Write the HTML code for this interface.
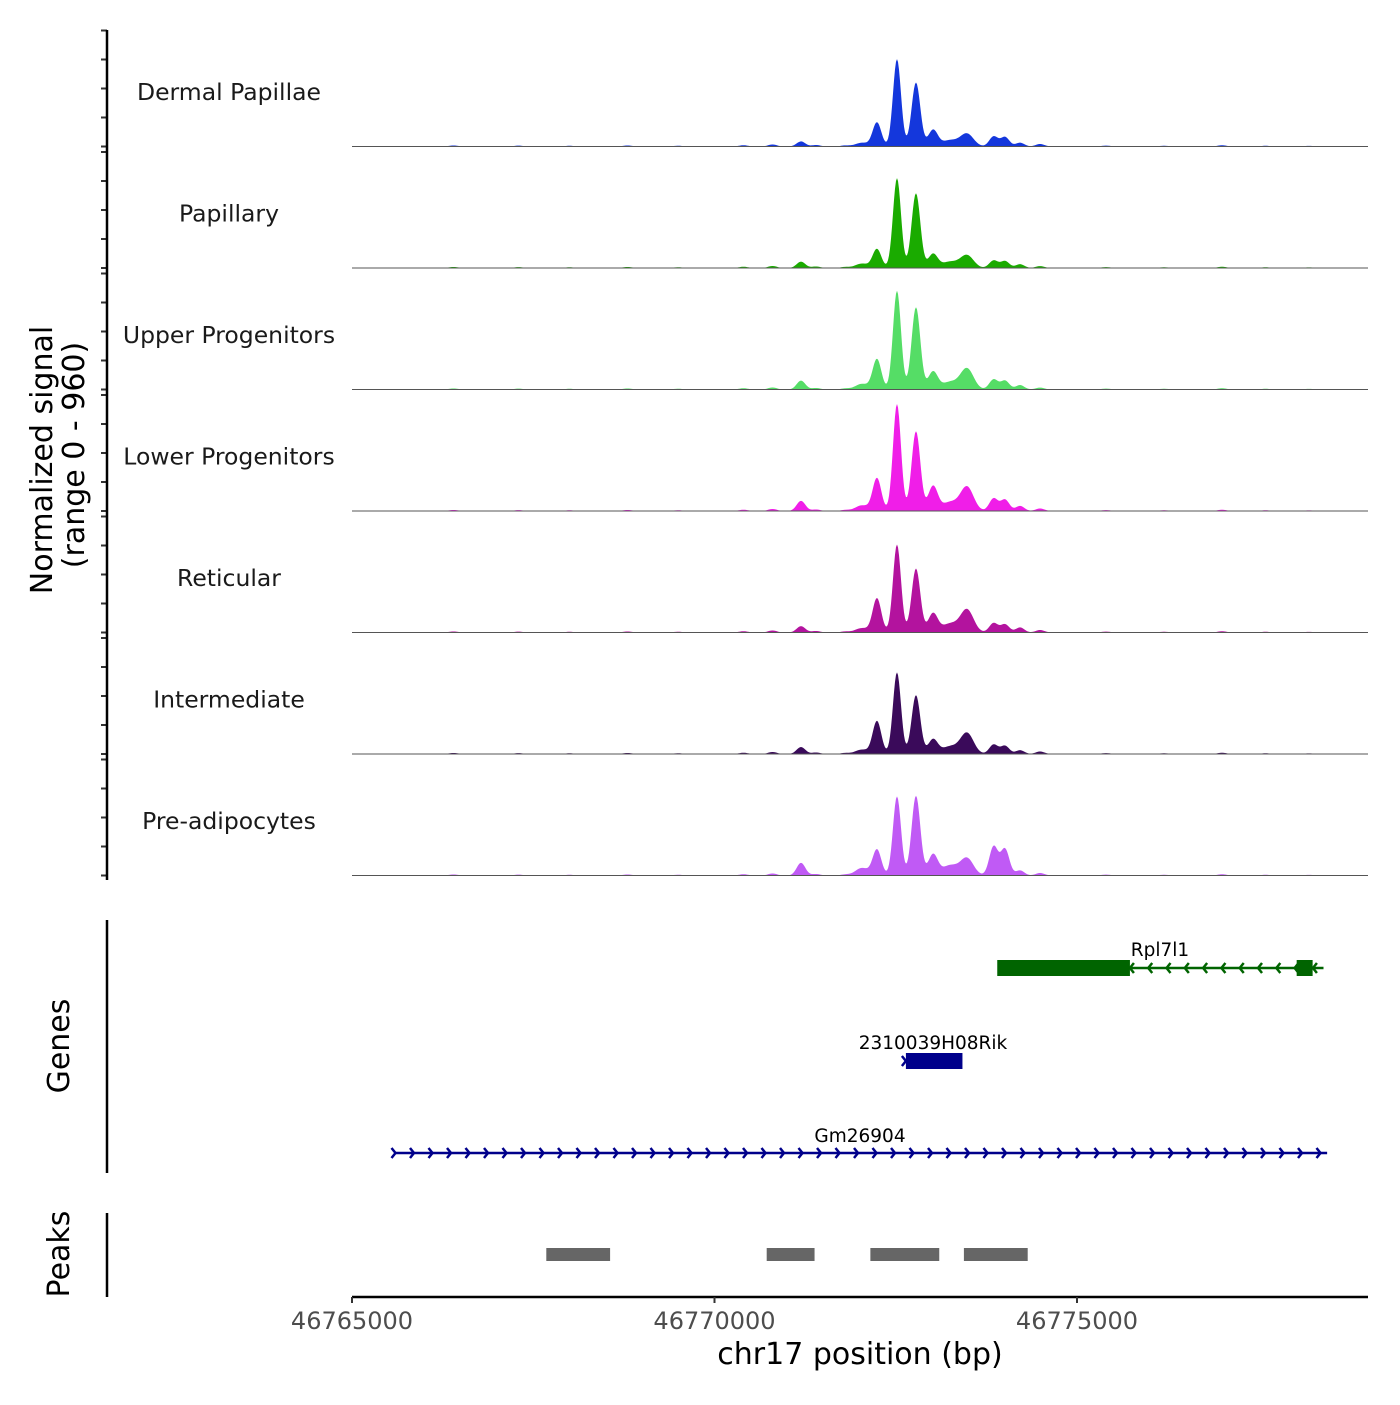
<!DOCTYPE html>
<html><head><meta charset="utf-8">
<style>
body{margin:0;background:#fff;}
svg text{font-family:"DejaVu Sans","Liberation Sans",sans-serif;}
</style></head>
<body>
<svg id="chart" width="1400" height="1400" xmlns="http://www.w3.org/2000/svg">
<g id="tracks"></g>
<g id="genes"></g>
<g id="peaks"></g>
<g id="axes"></g>
</svg>
<script>
// ---- data ----
const trackNames = ["Dermal Papillae","Papillary","Upper Progenitors","Lower Progenitors","Reticular","Intermediate","Pre-adipocytes"];
const trackColors = ["#1437dc","#1aab00","#55dd66","#f01ee8","#b3139e","#3a0a5a","#c05af5"];
// peak centers (bp)
const peakCenters = [46771193,46772034,46772241,46772517,46772779,46773014,46773248,46773483,46773850,46774007,46774214,46774490];
const peakWidths  = [60,90,60,55,60,65,110,90,60,60,60,60];
// peak heights per track (signal units, range 0-960)
const hDermal   = [40,30,190,690,505,130,50,100,80,75,30,20];
const hPapillary= [50,35,150,710,590,110,50,100,60,55,30,15];
const hUpper    = [70,45,240,780,650,140,60,165,80,70,35,15];
const hLower    = [80,45,260,845,630,195,70,190,100,90,40,20];
const hReticular= [50,35,270,695,505,150,70,180,75,65,40,20];
const hInter    = [55,35,260,645,465,115,60,165,75,65,30,20];
const hPreadipo = [100,60,205,625,630,165,80,135,230,210,40,20];
const trackHeights = [hDermal,hPapillary,hUpper,hLower,hReticular,hInter,hPreadipo];
// background minor bumps (bp, signal)
const bgPos = [46766400,46767300,46768000,46768800,46769500,46770400,46770800,46771400,46771800,46775400,46776200,46777000,46777600,46778200];
const bgVal = [8,7,6,8,6,10,16,12,8,7,6,10,6,5];

const genesPlus = {name:"Gm26904", start:46765600, end:46778450};
const genesRik = {name:"2310039H08Rik", start:46772640, end:46773420};
const rplBig = [46773900, 46775730];
const rplSmall = [46778030, 46778250];
const rplEnd = 46778400;
const peakRegions = [[46767680,46768560],[46770720,46771380],[46772150,46773100],[46773440,46774320]];
const xTicks = [46765000,46770000,46775000];
const xTickLabels = ["46765000","46770000","46775000"];

// ---- scales ----
const X0=352, X1=1368, BP0=46765000, PXPERBP=0.0725;
const xs = bp => X0 + (bp-BP0)*PXPERBP;
const trackTop=25, trackH=121.5, YMAX=960;
const NS='http://www.w3.org/2000/svg';
function mk(tag, attrs, parent){const e=document.createElementNS(NS,tag);for(const k in attrs)e.setAttribute(k,attrs[k]);parent.appendChild(e);return e;}

const gT=document.getElementById('tracks');
trackNames.forEach((nm,i)=>{
  const base = trackTop + trackH*(i+1);
  const ys = v => base - v/YMAX*trackH;
  const hs = trackHeights[i];
  let d = `M${X0},${base}`;
  for(let px=X0; px<=X1; px+=1){
    const bp = BP0 + (px-X0)/PXPERBP;
    let v=0;
    peakCenters.forEach((c,k)=>{const z=(bp-c)/peakWidths[k]; v+=hs[k]*Math.exp(-0.5*z*z);});
    bgPos.forEach((c,k)=>{const z=(bp-c)/60; v+=bgVal[k]*Math.exp(-0.5*z*z);});
    d += ` L${px},${ys(v).toFixed(2)}`;
  }
  d += ` L${X1},${base} Z`;
  const p=mk('path',{d:d,fill:trackColors[i]},gT);
  
  
  const bl=mk('line',{x1:X0,x2:X1,y1:base,y2:base,stroke:'#555','stroke-width':1},gT);
  
  
  const t=mk('text',{x:229,y:base-trackH+75,'text-anchor':'middle','font-size':23.5,fill:'#1a1a1a'},gT);
  t.textContent=nm;
  
  
  for(let k=0;k<=4;k++){
    const ty = base - k*29;
    const tk=mk('line',{x1:101,x2:107,y1:ty,y2:ty,stroke:'#333','stroke-width':2},gT);
    
    
  }
});

const gG=document.getElementById('genes');
(function(){
  const y=1153, a=xs(genesPlus.start), b=xs(genesPlus.end);
  const l=mk('line',{x1:a,x2:b,y1:y,y2:y,stroke:'#00008b','stroke-width':2.5},gG);
  
  
  for(let x=a; x<=b+1; x+=18.5){
    const ar=mk('path',{d:`M${x-4},${y-5} L${x},${y} L${x-4},${y+5}`,stroke:'#00008b','stroke-width':2.5,fill:'none'},gG);
    
    
  }
  const t=mk('text',{x:860,y:1142,'text-anchor':'middle','font-size':18.5,fill:'#000'},gG);
  t.textContent=genesPlus.name;
  
  
})();
(function(){
  const y=1061, a=xs(genesRik.start), b=xs(genesRik.end);
  const r=mk('rect',{x:a,y:y-8,width:b-a,height:16,fill:'#00008b'},gG);
  
  
  const ar=mk('path',{d:`M${a-4},${y-5} L${a},${y} L${a-4},${y+5}`,stroke:'#00008b','stroke-width':2.5,fill:'none'},gG);
  
  
  const t=mk('text',{x:933,y:1049,'text-anchor':'middle','font-size':18.5,fill:'#000'},gG);
  t.textContent=genesRik.name;
  
  
})();
(function(){
  const y=968, c='#006400';
  const l=mk('line',{x1:xs(rplBig[1]),x2:xs(rplEnd),y1:y,y2:y,stroke:c,'stroke-width':2.5},gG);
  
  
  const r=mk('rect',{x:xs(rplBig[0]),y:y-8,width:xs(rplBig[1])-xs(rplBig[0]),height:16,fill:c},gG);
  
  
  const r2=mk('rect',{x:xs(rplSmall[0]),y:y-8,width:xs(rplSmall[1])-xs(rplSmall[0]),height:16,fill:c},gG);
  
  
  for(let x=xs(rplBig[1]); x<=xs(rplEnd)+1; x+=18.3){
    const ar=mk('path',{d:`M${x+4},${y-5} L${x},${y} L${x+4},${y+5}`,stroke:c,'stroke-width':2.5,fill:'none'},gG);
    
    
  }
  const t=mk('text',{x:1160,y:956,'text-anchor':'middle','font-size':18.5,fill:'#000'},gG);
  t.textContent='Rpl7l1';
  
  
})();

const gP=document.getElementById('peaks');
peakRegions.forEach(pr=>{
  const r=mk('rect',{x:xs(pr[0]),y:1248,width:xs(pr[1])-xs(pr[0]),height:13,fill:'#666'},gP);
  
  
});

const gA=document.getElementById('axes');
[[30,880,'signal-axis-line'],[920,1173,'genes-axis-line'],[1213,1297,'peaks-axis-line']].forEach(s=>{
  const l=mk('line',{x1:107,x2:107,y1:s[0],y2:s[1],stroke:'#000','stroke-width':2.5},gA);
  
  
});
const xl=mk('line',{x1:X0,x2:X1,y1:1297,y2:1297,stroke:'#000','stroke-width':2.5},gA);


xTicks.forEach((v,i)=>{
  const tk=mk('line',{x1:xs(v),x2:xs(v),y1:1297,y2:1303,stroke:'#333','stroke-width':2},gA);
  
  
  const t=mk('text',{x:xs(v),y:1329,'text-anchor':'middle','font-size':24,fill:'#4d4d4d'},gA);
  t.textContent=xTickLabels[i];
  
  
});
const xt=mk('text',{x:860,y:1364,'text-anchor':'middle','font-size':30,fill:'#000'},gA);
xt.textContent='chr17 position (bp)';


function rot(txt,x,y,name){
  const t=mk('text',{x:x,y:y,'text-anchor':'middle','font-size':30,fill:'#000',transform:`rotate(-90 ${x} ${y})`},gA);
  t.textContent=txt;
  
  
}
rot('Normalized signal',52,460,'y-axis-title');
rot('(range 0 - 960)',84,455,'y-axis-subtitle');
rot('Genes',69,1046,'genes-axis-title');
rot('Peaks',69,1254,'peaks-axis-title');
</script>
</body></html>
